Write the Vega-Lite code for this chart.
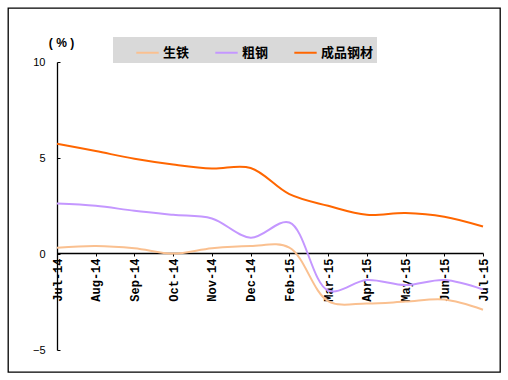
{
  "$schema": "https://vega.github.io/schema/vega-lite/v6.json",
  "width": 492,
  "height": 364,
  "autosize": {"type": "none"},
  "padding": {"left": 8, "top": 8, "right": 8, "bottom": 8},
  "background": "white",
  "config": {
    "view": {"stroke": "black", "strokeWidth": 1.3}
  },
  "data": {
    "values": [
      {"month": "Jul-14", "series": "生铁", "value": 0.33},
      {"month": "Aug-14", "series": "生铁", "value": 0.42},
      {"month": "Sep-14", "series": "生铁", "value": 0.30},
      {"month": "Oct-14", "series": "生铁", "value": 0.02},
      {"month": "Nov-14", "series": "生铁", "value": 0.30},
      {"month": "Dec-14", "series": "生铁", "value": 0.42},
      {"month": "Feb-15", "series": "生铁", "value": 0.33},
      {"month": "Mar-15", "series": "生铁", "value": -2.45},
      {"month": "Apr-15", "series": "生铁", "value": -2.58},
      {"month": "May-15", "series": "生铁", "value": -2.48},
      {"month": "Jun-15", "series": "生铁", "value": -2.37},
      {"month": "Jul-15", "series": "生铁", "value": -2.9},
      {"month": "Jul-14", "series": "粗钢", "value": 2.63},
      {"month": "Aug-14", "series": "粗钢", "value": 2.51},
      {"month": "Sep-14", "series": "粗钢", "value": 2.25},
      {"month": "Oct-14", "series": "粗钢", "value": 2.04},
      {"month": "Nov-14", "series": "粗钢", "value": 1.85},
      {"month": "Dec-14", "series": "粗钢", "value": 0.85},
      {"month": "Feb-15", "series": "粗钢", "value": 1.64},
      {"month": "Mar-15", "series": "粗钢", "value": -1.9},
      {"month": "Apr-15", "series": "粗钢", "value": -1.36},
      {"month": "May-15", "series": "粗钢", "value": -1.62},
      {"month": "Jun-15", "series": "粗钢", "value": -1.36},
      {"month": "Jul-15", "series": "粗钢", "value": -1.85},
      {"month": "Jul-14", "series": "成品钢材", "value": 5.74},
      {"month": "Aug-14", "series": "成品钢材", "value": 5.36},
      {"month": "Sep-14", "series": "成品钢材", "value": 4.96},
      {"month": "Oct-14", "series": "成品钢材", "value": 4.66},
      {"month": "Nov-14", "series": "成品钢材", "value": 4.45},
      {"month": "Dec-14", "series": "成品钢材", "value": 4.48},
      {"month": "Feb-15", "series": "成品钢材", "value": 3.12},
      {"month": "Mar-15", "series": "成品钢材", "value": 2.51},
      {"month": "Apr-15", "series": "成品钢材", "value": 2.04},
      {"month": "May-15", "series": "成品钢材", "value": 2.13},
      {"month": "Jun-15", "series": "成品钢材", "value": 1.94},
      {"month": "Jul-15", "series": "成品钢材", "value": 1.43}
    ]
  },
  "mark": {"type": "line", "interpolate": "catmull-rom", "strokeWidth": 2},
  "encoding": {
    "x": {
      "field": "month",
      "type": "ordinal",
      "sort": null,
      "scale": {"type": "point", "padding": 0, "range": [49, 475]},
      "axis": {
        "title": null,
        "offset": -119,
        "labelAngle": -90,
        "labelFont": "Liberation Mono",
        "labelFontWeight": "bold",
        "labelFontSize": 12,
        "labelColor": "black",
        "labelPadding": 2,
        "tickSize": 3,
        "tickColor": "black",
        "domainColor": "black",
        "domainWidth": 1.3,
        "labelOverlap": false
      }
    },
    "y": {
      "field": "value",
      "type": "quantitative",
      "scale": {"domain": [-5, 10], "range": [342, 54], "nice": false, "zero": false},
      "axis": {
        "values": [-5, 0, 5, 10],
        "offset": -49,
        "grid": false,
        "tickSize": -3,
        "tickColor": "black",
        "domainColor": "black",
        "domainWidth": 1.3,
        "labelFont": "Liberation Sans",
        "labelFontSize": 11,
        "labelColor": "black",
        "labelPadding": 15,
        "title": "( % )",
        "titleAngle": 0,
        "titleFont": "Liberation Sans",
        "titleFontSize": 12,
        "titleFontWeight": "bold",
        "titleX": 4,
        "titleY": 34,
        "titleAlign": "center",
        "titleBaseline": "middle"
      }
    },
    "color": {
      "field": "series",
      "type": "nominal",
      "scale": {
        "domain": ["生铁", "粗钢", "成品钢材"],
        "range": ["#FAC090", "#C497FF", "#FF6600"]
      },
      "legend": {
        "title": null,
        "orient": "none",
        "direction": "horizontal",
        "legendX": 105,
        "legendY": 29,
        "fillColor": "#D9D9D9",
        "padding": 3,
        "symbolType": "stroke",
        "symbolSize": 500,
        "symbolStrokeWidth": 2,
        "symbolOffset": 19,
        "labelFont": "Noto Sans CJK SC",
        "labelFontWeight": "bold",
        "labelFontSize": 13,
        "labelColor": "black",
        "columnPadding": 5,
        "labelOffset": 3
      }
    }
  }
}
